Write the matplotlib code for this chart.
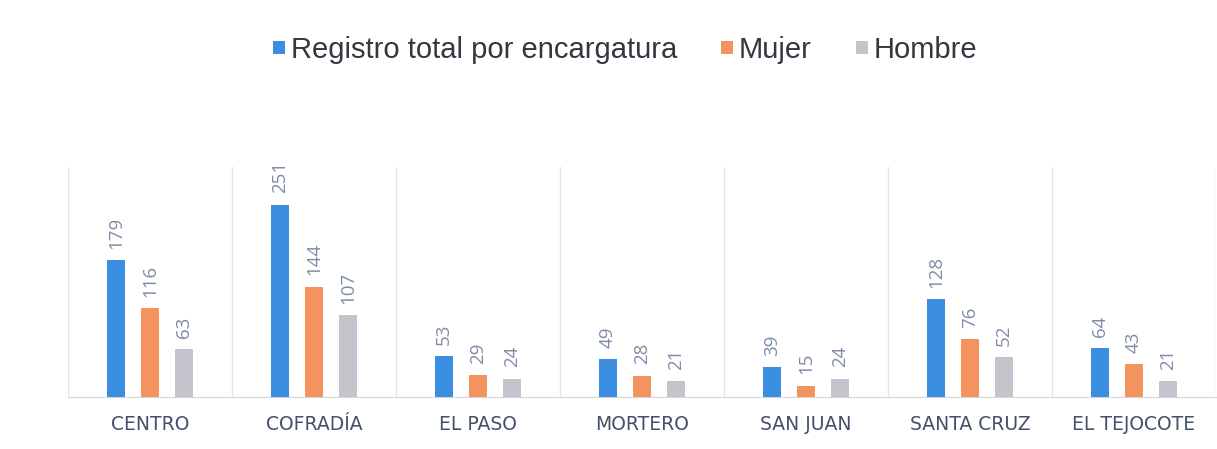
import matplotlib.pyplot as plt
import numpy as np

# data
localidades = ["CENTRO", "COFRADÍA", "EL PASO", "MORTERO", "SAN JUAN", "SANTA CRUZ", "EL TEJOCOTE"]
total = [179, 251, 53, 49, 39, 128, 64]
mujer = [116, 144, 29, 28, 15, 76, 43]
hombre = [63, 107, 24, 21, 24, 52, 21]
series_names = ["Registro total por encargatura", "Mujer", "Hombre"]

colors = ["#3a8de0", "#f3935f", "#c4c4cc"]
label_color = "#7f8ca6"
cat_color = "#44506a"

fig = plt.figure(figsize=(12.17, 4.49), dpi=100)
ax = fig.add_axes([68 / 1217, 52 / 449, 1148 / 1217, 230 / 449])

x = np.arange(len(localidades))
offs = [-0.207, 0.0, 0.207]
w = 0.11
for vals, off, c, name in zip([total, mujer, hombre], offs, colors, series_names):
    bars = ax.bar(x + off, vals, width=w, color=c, label=name, zorder=3)
    for b, v in zip(bars, vals):
        ax.annotate(str(v), (b.get_x() + b.get_width() / 2, v),
                    xytext=(0, 8), textcoords="offset points",
                    rotation=90, ha="center", va="bottom",
                    fontsize=13.5, color=label_color, family="Open Sans")

ax.set_xlim(-0.5, len(localidades) - 0.5)
ax.set_ylim(0, 300)

# category separators
for s in np.arange(-0.5, len(localidades), 1.0):
    ax.axvline(s, color="#e4e4e4", lw=1, zorder=1)

for sp in ["top", "right", "left"]:
    ax.spines[sp].set_visible(False)
ax.spines["bottom"].set_color("#d6d6d6")
ax.set_yticks([])
ax.set_xticks(x)
ax.set_xticklabels(localidades, fontsize=13.5, color=cat_color, family="DejaVu Sans")
ax.tick_params(axis="x", length=0, pad=13)

leg = fig.legend(loc="center", bbox_to_anchor=(625 / 1217, 1 - 50 / 449), ncol=3,
                 frameon=False, handlelength=0.42, handleheight=0.3,
                 handletextpad=0.2, columnspacing=1.5,
                 prop={"family": "Liberation Sans", "size": 21})
for t in leg.get_texts():
    t.set_color("#33373f")

fig.savefig("out.png", dpi=100)
